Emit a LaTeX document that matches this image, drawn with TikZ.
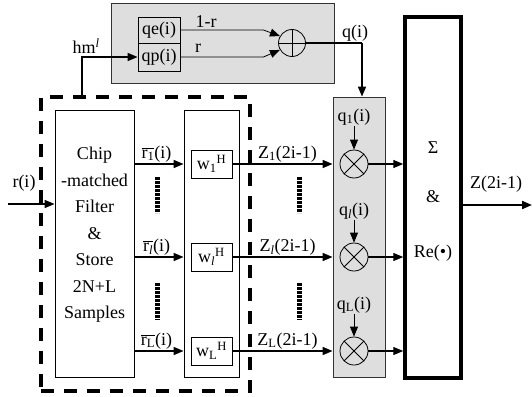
\documentclass[tikz,border=0pt]{standalone}
\usepackage{fontspec}
\setmainfont{Liberation Serif}
\usetikzlibrary{arrows.meta,calc,positioning}
\definecolor{PanelGray}{RGB}{222,222,222}
\tikzset{
  box/.style={draw,line width=0.8pt,inner sep=0pt},
  panel/.style={box,fill=PanelGray,draw=black!80},
  lbl/.style={inner sep=1pt},
  sig/.style={->,line width=1.6pt},
  fine/.style={->,line width=0.8pt},
  vdots/.style={line width=5pt,dash pattern=on 2.6pt off 1.4pt},
  adder/.style={circle,draw,line width=0.8pt,minimum size=27pt,inner sep=0pt,
    path picture={\draw[line width=0.8pt] (path picture bounding box.north)--(path picture bounding box.south)
      (path picture bounding box.west)--(path picture bounding box.east);}},
  mult/.style={circle,draw,line width=0.8pt,minimum size=28pt,inner sep=0pt,
    path picture={\draw[line width=0.8pt] (path picture bounding box.north west)--(path picture bounding box.south east)
      (path picture bounding box.south west)--(path picture bounding box.north east);}}
}
\begin{document}
\begin{tikzpicture}[x=1pt,y=-1pt,>={Triangle[length=10pt,width=8pt]},
    every node/.style={font=\fontsize{18}{21}\selectfont}]
  \useasboundingbox (0,0) rectangle (532,396);
  % estimator panel
  \node[panel,minimum width=223pt,minimum height=80pt] (est) at (222.5,43) {};
  \node[box,minimum width=42pt,minimum height=26pt] (qe) at (159,30) {qe(i)};
  \node[box,minimum width=42pt,minimum height=28pt] (qp) at (159,57) {qp(i)};
  \node[adder] (sum) at (292,43) {};
  \draw[fine] (qe.east) -- ++(83,0) -- (sum.150);
  \draw[fine] (qp.east) -- ++(83,0) -- (sum.210);
  \node[lbl] (one) at (206,22) {1-r};
  \node[lbl] (rr) at (198,48) {r};
  % despreading part
  \node[draw,line width=4.5pt,dash pattern=on 13pt off 10pt,minimum width=209pt,minimum height=294pt] (dbox) at (145.5,244) {};
  \node[box,minimum width=79pt,minimum height=267pt] (chip) at (94.5,243.5) {};
  \node[align=center,font=\fontsize{18}{26.5}\selectfont] (chiptxt) at (94.5,235)
    {Chip\\-matched\\Filter\\\&\\Store\\2N+L\\Samples};
  \node[box,minimum width=55pt,minimum height=267pt] (wbox) at (211.5,243.5) {};
  \coordinate (hmb) at (82,57);
  \draw[sig] (hmb |- dbox.north) -- (hmb) -- (qp.west);
  \node[lbl] (hm) at (86,46) {hm\textsuperscript{\textit{l}}};
  % combiner
  \node[panel,minimum width=52pt,minimum height=280pt] (mulbox) at (359,237) {};
  \node[draw,line width=3.5pt,minimum width=56pt,minimum height=361pt] (sigbox) at (433,197.5) {};
  \node (sg) at (433,148) {Σ};
  \node (amp) at (433,197) {\&};
  \node (re) at (433,253) {Re(•)};
  \coordinate (qb) at (362,43);
  \draw[line width=1.1pt] (sum.east) -- (qb);
  \draw[sig] (qb) -- (qb |- mulbox.north);
  \node[lbl] (qi) at (355,33) {q(i)};
  % input and output
  \coordinate (rin) at (8,204);
  \draw[sig] (rin) -- (rin -| chip.west);
  \node[lbl] (ri) at (24,183) {r(i)};
  \coordinate (zout) at (532,205);
  \draw[->,line width=2pt] (zout -| sigbox.east) -- (zout);
  \node[lbl] (zo) at (496,184) {Z(2i-1)};
  % fingers
  \foreach \n/\y/\s/\qy in {1/164/1/117, l/257/{\textit{l}}/211, L/351/L/305}{
    \node[box,minimum width=41pt,minimum height=28pt] (w\n) at (211.5,\y) {w\textsubscript{\s}\textsuperscript{H}};
    \node[mult] (m\n) at (354,\y) {};
    \node[lbl] (q\n) at (354,\qy) {q\textsubscript{\s}(i)};
    \draw[fine] (q\n.south) -- (m\n.north);
    \draw[sig] (chip.east |- w\n) -- node[above,lbl,pos=0.45] {$\overline{\hbox{r\textsubscript{\s}}}$(i)} (wbox.west |- w\n);
    \draw[sig] (w\n.east) -- node[above,lbl,pos=0.55] {Z\textsubscript{\s}(2i-1)} (mulbox.west |- w\n);
    \draw[->,line width=1.3pt] (m\n.east) -- (sigbox.west |- m\n);
  }
  \foreach \x in {157,299}{
    \draw[vdots] (\x,177) -- (\x,213);
    \draw[vdots] (\x,283) -- (\x,320);
  }
\end{tikzpicture}
\end{document}
